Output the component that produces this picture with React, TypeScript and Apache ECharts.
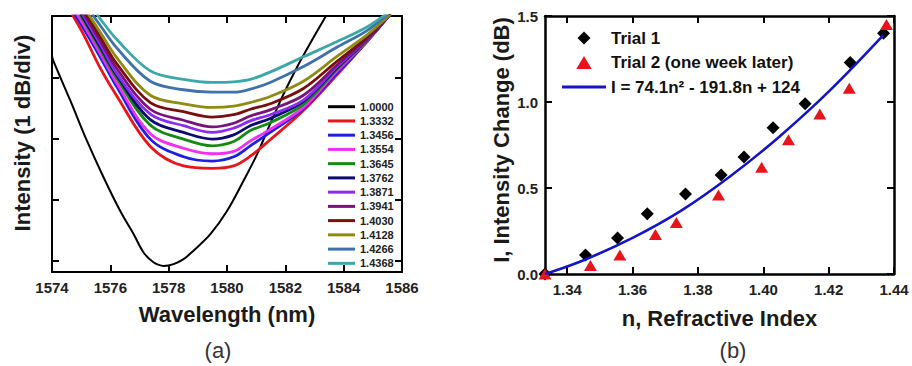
import React, { useEffect, useRef } from "react";
import * as echarts from "echarts";

// ---------- Panel (a): transmission spectra ----------
const wavelengthTicks = [1574, 1576, 1578, 1580, 1582, 1584, 1586];
const intensityTicksA = [0, 1, 2, 3];
const indexLabels = [
  "1.0000", "1.3332", "1.3456", "1.3554", "1.3645", "1.3762",
  "1.3871", "1.3941", "1.4030", "1.4128", "1.4266", "1.4368",
];

const curve10000 = [[1574.0, 3.36], [1574.05, 3.28], [1574.63, 2.63], [1575.2, 1.97], [1575.77, 1.37], [1576.34, 0.82], [1576.8, 0.44], [1577.14, 0.14], [1577.48, -0.02], [1577.83, -0.08], [1578.17, -0.05], [1578.51, 0.03], [1578.85, 0.17], [1579.43, 0.44], [1580.0, 0.82], [1580.57, 1.32], [1581.03, 1.75], [1581.48, 2.25], [1581.94, 2.74], [1582.4, 3.18], [1582.97, 3.67], [1583.43, 4.05]];
const curve13332 = [[1574.69, 4.05], [1575.08, 3.72], [1575.66, 3.16], [1576.23, 2.7], [1577.37, 1.88], [1578.51, 1.56], [1579.5, 1.52], [1580.23, 1.56], [1580.8, 1.72], [1581.48, 1.99], [1582.62, 2.47], [1583.78, 3.06], [1584.8, 3.6], [1585.6, 4.05]];
const curve13456 = [[1574.78, 4.05], [1575.08, 3.82], [1575.66, 3.34], [1576.23, 2.85], [1577.37, 2.0], [1578.51, 1.71], [1579.5, 1.64], [1580.23, 1.71], [1580.8, 1.89], [1581.48, 2.11], [1582.62, 2.5], [1583.78, 3.09], [1584.8, 3.6], [1585.6, 4.05]];
const curve13554 = [[1574.86, 4.05], [1575.08, 3.88], [1575.66, 3.4], [1576.23, 2.91], [1577.37, 2.09], [1578.51, 1.85], [1579.5, 1.76], [1580.23, 1.8], [1580.8, 1.97], [1581.48, 2.16], [1582.62, 2.52], [1583.78, 3.12], [1584.8, 3.61], [1585.6, 4.05]];
const curve13645 = [[1574.95, 4.05], [1575.08, 3.95], [1575.66, 3.47], [1576.23, 2.99], [1577.37, 2.23], [1578.51, 2.0], [1579.5, 1.89], [1580.23, 1.96], [1580.8, 2.14], [1581.48, 2.27], [1582.62, 2.57], [1583.78, 3.15], [1584.8, 3.62], [1585.6, 4.05]];
const curve13762 = [[1575.0, 4.05], [1575.66, 3.51], [1576.23, 3.04], [1577.37, 2.32], [1578.51, 2.11], [1579.5, 2.0], [1580.23, 2.07], [1580.8, 2.22], [1581.48, 2.34], [1582.62, 2.62], [1583.78, 3.17], [1584.8, 3.63], [1585.6, 4.05]];
const curve13871 = [[1575.05, 4.05], [1575.66, 3.55], [1576.23, 3.07], [1577.37, 2.41], [1578.51, 2.22], [1579.5, 2.11], [1580.23, 2.18], [1580.8, 2.3], [1581.48, 2.4], [1582.62, 2.64], [1583.78, 3.19], [1584.8, 3.64], [1585.6, 4.05]];
const curve13941 = [[1575.1, 4.05], [1575.66, 3.61], [1576.23, 3.15], [1577.37, 2.49], [1578.51, 2.31], [1579.5, 2.2], [1580.23, 2.26], [1580.8, 2.38], [1581.48, 2.48], [1582.62, 2.72], [1583.78, 3.22], [1584.8, 3.65], [1585.6, 4.05]];
const curve14030 = [[1575.17, 4.05], [1575.66, 3.67], [1576.23, 3.23], [1577.37, 2.6], [1578.51, 2.45], [1579.5, 2.36], [1580.23, 2.4], [1580.8, 2.49], [1581.48, 2.58], [1582.62, 2.83], [1583.78, 3.28], [1584.8, 3.67], [1585.6, 4.05]];
const curve14128 = [[1575.25, 4.05], [1575.66, 3.75], [1576.23, 3.33], [1577.37, 2.72], [1578.51, 2.58], [1579.5, 2.52], [1580.23, 2.54], [1580.8, 2.6], [1581.48, 2.7], [1582.62, 2.95], [1583.78, 3.36], [1584.8, 3.71], [1585.6, 4.05]];
const curve14266 = [[1575.38, 4.05], [1575.66, 3.86], [1576.23, 3.49], [1577.37, 2.95], [1578.51, 2.81], [1579.5, 2.77], [1580.23, 2.77], [1580.8, 2.82], [1581.48, 2.93], [1582.62, 3.19], [1583.78, 3.51], [1584.8, 3.78], [1585.5, 4.05]];
const curve14368 = [[1575.54, 4.05], [1575.66, 3.97], [1576.23, 3.63], [1577.37, 3.12], [1578.51, 2.98], [1579.5, 2.93], [1580.23, 2.94], [1580.8, 2.98], [1581.48, 3.1], [1582.62, 3.35], [1583.78, 3.6], [1584.8, 3.84], [1585.45, 4.05]];

const spectra = [
  curve10000, curve13332, curve13456, curve13554, curve13645, curve13762,
  curve13871, curve13941, curve14030, curve14128, curve14266, curve14368,
];

// ---------- Panel (b): intensity change vs refractive index ----------
const indexTicksB = [1.34, 1.36, 1.38, 1.4, 1.42, 1.44];
const intensityTicksB = [0, 0.5, 1.0, 1.5];
const trial1Name = "Trial 1";
const trial2Name = "Trial 2 (one week later)";
const fitName = "I = 74.1n\u00B2 - 191.8n + 124";

const trial1 = [[1.3332, 0], [1.3456, 0.11], [1.3554, 0.21], [1.3645, 0.35], [1.3762, 0.465], [1.3871, 0.575], [1.3941, 0.68], [1.403, 0.85], [1.4128, 0.99], [1.4266, 1.23], [1.4368, 1.4]];
const trial2 = [[1.3332, 0], [1.3471, 0.05], [1.3561, 0.11], [1.367, 0.23], [1.3734, 0.3], [1.3863, 0.46], [1.3995, 0.62], [1.4077, 0.78], [1.4173, 0.93], [1.4263, 1.08], [1.4377, 1.45]];
const fitCurve = [[1.3332, 0.0], [1.345, 0.08], [1.36, 0.21], [1.375, 0.37], [1.39, 0.57], [1.405, 0.8], [1.42, 1.06], [1.4368, 1.39]];

// ---------- styles ----------
const FONT = "'Liberation Sans', Arial, Helvetica, sans-serif";
const spectraColors = [
  "#000000", "#e8161c", "#1f1fe0", "#f030f0", "#138a13", "#0b0b70",
  "#8c2cf0", "#781478", "#780f0f", "#8e8c14", "#3f72aa", "#3ba7a8",
];
const ICON_LINE_A = "path://M0,0H27V3H0Z";
const ICON_LINE_B = "path://M0,0H44V3H0Z";
const ICON_DIAMOND = "path://M6.5,0L13,6.5L6.5,13L0,6.5Z";
const ICON_TRIANGLE = "path://M6.5,0L13,11H0Z";

export default function App() {
  const ref = useRef<HTMLDivElement>(null);

  useEffect(() => {
    if (!ref.current) return;
    const chart = echarts.init(ref.current, undefined, { renderer: "svg" });

    const tickLabel = {
      fontFamily: FONT,
      fontWeight: "bold" as const,
      fontSize: 15,
      color: "#222",
    };
    const nameStyle = {
      fontFamily: FONT,
      fontWeight: "bold" as const,
      fontSize: 22,
      color: "#1a1a1a",
    };
    const frame = (w: number) => ({ show: true, onZero: false, lineStyle: { color: "#000", width: w } });
    const tick = (vals?: number[]) => ({
      show: true,
      inside: true,
      length: 7,
      lineStyle: { color: "#000", width: 2 },
      ...(vals ? { customValues: vals } : {}),
    });

    const spectraSeries = spectra.map((data, i) => ({
      name: indexLabels[i],
      type: "line",
      xAxisIndex: 0,
      yAxisIndex: 0,
      data,
      symbol: "none",
      smooth: 0.35,
      clip: true,
      lineStyle: { color: spectraColors[i], width: i === 0 ? 2 : 2.8 },
      itemStyle: { color: spectraColors[i] },
      z: 2,
    }));

    chart.setOption({
      animation: false,
      grid: [
        { left: 52, top: 16, width: 350, height: 256 },
        { left: 545, top: 16, width: 349, height: 258 },
      ],
      xAxis: [
        {
          gridIndex: 0, type: "value", min: 1574, max: 1586, interval: 2, position: "bottom",
          axisLine: frame(2), axisTick: tick(), splitLine: { show: false },
          axisLabel: { ...tickLabel, margin: 8, customValues: wavelengthTicks, formatter: (v: number) => String(v) },
          name: "Wavelength (nm)", nameLocation: "middle", nameGap: 31, nameTextStyle: nameStyle,
        },
        {
          gridIndex: 0, type: "value", min: 1574, max: 1586, interval: 2, position: "top",
          axisLine: frame(2), axisTick: tick(), axisLabel: { show: false }, splitLine: { show: false },
        },
        {
          gridIndex: 1, type: "value", min: 1.3332, max: 1.44, position: "bottom",
          axisLine: frame(2.5), axisTick: tick(indexTicksB), splitLine: { show: false },
          axisLabel: { ...tickLabel, margin: 8, customValues: indexTicksB, formatter: (v: number) => v.toFixed(2) },
          name: "n, Refractive Index", nameLocation: "middle", nameGap: 33, nameTextStyle: nameStyle,
        },
        {
          gridIndex: 1, type: "value", min: 1.3332, max: 1.44, position: "top",
          axisLine: frame(2.5), axisTick: tick(indexTicksB), axisLabel: { show: false }, splitLine: { show: false },
        },
      ],
      yAxis: [
        {
          gridIndex: 0, type: "value", min: -0.18, max: 4.02, position: "left",
          axisLine: frame(2), axisTick: tick(intensityTicksA), axisLabel: { show: false }, splitLine: { show: false },
          name: "Intensity (1 dB/div)", nameLocation: "middle", nameGap: 19,
          nameTextStyle: { ...nameStyle, padding: [0, 0, 0, 22] },
        },
        {
          gridIndex: 0, type: "value", min: -0.18, max: 4.02, position: "right",
          axisLine: frame(2), axisTick: tick(intensityTicksA), axisLabel: { show: false }, splitLine: { show: false },
        },
        {
          gridIndex: 1, type: "value", min: 0, max: 1.5, interval: 0.5, position: "left",
          axisLine: frame(2.5), axisTick: tick(), splitLine: { show: false },
          axisLabel: { ...tickLabel, margin: 7, customValues: intensityTicksB, formatter: (v: number) => v.toFixed(1) },
          name: "I, Intensity Change (dB)", nameLocation: "middle", nameGap: 33,
          nameTextStyle: { ...nameStyle, padding: [0, 0, 0, 10] },
        },
        {
          gridIndex: 1, type: "value", min: 0, max: 1.5, interval: 0.5, position: "right",
          axisLine: frame(2.5), axisTick: tick(), axisLabel: { show: false }, splitLine: { show: false },
        },
      ],
      legend: [
        {
          data: indexLabels.map((name) => ({ name, icon: ICON_LINE_A })),
          orient: "vertical",
          left: 328,
          top: 101.2,
          itemWidth: 27,
          itemHeight: 11,
          itemGap: 3.24,
          padding: 0,
          selectedMode: false,
          symbolKeepAspect: true,
          textStyle: { fontFamily: FONT, fontWeight: "bold", fontSize: 11, color: "#222" },
        },
        {
          data: [
            { name: trial1Name, icon: ICON_DIAMOND },
            { name: trial2Name, icon: ICON_TRIANGLE },
            { name: fitName, icon: ICON_LINE_B },
          ],
          orient: "vertical",
          left: 562,
          top: 29.5,
          itemWidth: 44,
          itemHeight: 13,
          itemGap: 7.5,
          padding: 0,
          selectedMode: false,
          symbolKeepAspect: true,
          textStyle: { fontFamily: FONT, fontWeight: "bold", fontSize: 17, color: "#111" },
        },
      ],
      series: [
        ...spectraSeries,
        {
          name: trial1Name, type: "scatter", xAxisIndex: 2, yAxisIndex: 2, data: trial1,
          symbol: "diamond", symbolSize: 13, itemStyle: { color: "#000", opacity: 1 }, z: 2,
        },
        {
          name: trial2Name, type: "scatter", xAxisIndex: 2, yAxisIndex: 2, data: trial2,
          symbol: "triangle", symbolSize: [13, 11], itemStyle: { color: "#e8141b", opacity: 1 }, z: 3,
        },
        {
          name: fitName, type: "line", xAxisIndex: 2, yAxisIndex: 2, data: fitCurve,
          symbol: "none", smooth: 0.4, lineStyle: { color: "#1515c8", width: 2.6 },
          itemStyle: { color: "#1515c8" }, z: 4,
        },
      ],
      graphic: [
        {
          type: "text", x: 218, y: 350,
          style: { text: "(a)", font: `22px ${FONT}`, fill: "#333", textAlign: "center", textVerticalAlign: "middle", align: "center", verticalAlign: "middle" },
        },
        {
          type: "text", x: 733, y: 350,
          style: { text: "(b)", font: `22px ${FONT}`, fill: "#333", textAlign: "center", textVerticalAlign: "middle", align: "center", verticalAlign: "middle" },
        },
      ],
    });

    return () => chart.dispose();
  }, []);

  return (
    <div
      ref={ref}
      style={{ position: "fixed", left: 0, top: 0, width: 912, height: 366, background: "#fff" }}
    />
  );
}
